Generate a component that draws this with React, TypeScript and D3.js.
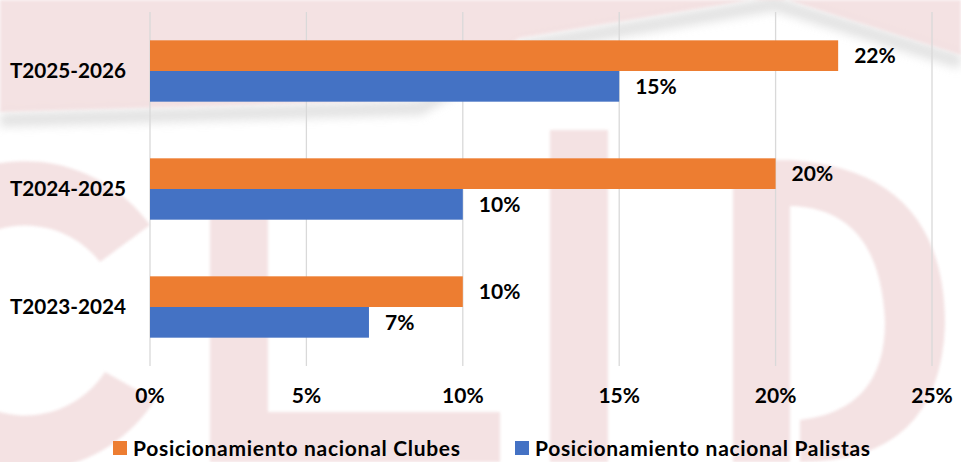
import React from "react";
import { scaleLinear, scaleBand } from "d3";

const categories = ["T2025-2026", "T2024-2025", "T2023-2024"];
const clubes = [22, 20, 10];
const palistas = [15, 10, 7];
const seriesNames = ["Posicionamiento nacional Clubes", "Posicionamiento nacional Palistas"];
const seriesColors = ["#ED7D31", "#4472C4"];
const xTicks = [0, 5, 10, 15, 20, 25];

const width = 961;
const height = 462;
const margin = { top: 12, right: 29, bottom: 96, left: 150 };
const font = "Lato, 'Open Sans', sans-serif";
const pink = "#f3dfe0";

// faint CLTD logo behind the chart
const Watermark = () => (
  <g>
    <defs>
      <filter id="blur" x="-10%" y="-50%" width="120%" height="200%">
        <feGaussianBlur stdDeviation="5" />
      </filter>
      <filter id="soft" x="-5%" y="-5%" width="110%" height="110%">
        <feGaussianBlur stdDeviation="1.5" />
      </filter>
    </defs>
    <path
      d="M0,120 L420,108 L525,46 L775,4 L961,62"
      fill="none"
      stroke="#dcdcdc"
      strokeWidth={14}
      filter="url(#blur)"
      opacity={0.8}
    />
    <g fill={pink} filter="url(#soft)" opacity={0.9}>
      <path d="M0,0 L961,0 L961,55 L775,-4 L520,38 L415,100 L0,112 Z" />
      {/* C */}
      <path d="M150,225 A155,155 0 1,0 155,400 L105,372 A95,95 0 1,1 100,262 Z" />
      {/* L */}
      <rect x={210} y={215} width={58} height={247} />
      <rect x={268} y={412} width={232} height={50} />
      {/* T */}
      <rect x={550} y={130} width={58} height={332} />
      {/* D */}
      <path d="M733,160 L790,160 L790,462 L733,462 Z M790,160 Q945,170 945,325 Q940,462 800,462 L800,420 Q885,410 885,322 Q880,208 790,206 Z" />
    </g>
  </g>
);

export default function App() {
  const innerW = width - margin.left - margin.right;
  const x = scaleLinear().domain([0, 25]).range([margin.left, margin.left + innerW]);
  const y = scaleBand<string>()
    .domain(categories)
    .range([margin.top, height - margin.bottom])
    .paddingInner(0.48)
    .paddingOuter(0.24);
  const inner = scaleBand<string>().domain(seriesNames).range([0, y.bandwidth()]);
  const series = [clubes, palistas];
  const legendX = [113, 515];
  const legendLen = [327, 335];

  return (
    <div style={{ position: "absolute", left: 0, top: 0 }}>
      <svg width={width} height={height} style={{ display: "block", background: "#fff" }}>
        <Watermark />
        {xTicks.map((t) => (
          <line
            key={t}
            x1={x(t)}
            x2={x(t)}
            y1={margin.top}
            y2={height - margin.bottom}
            stroke="#d9d9d9"
            strokeWidth={1.3}
          />
        ))}
        {categories.map((c, i) => (
          <g key={c}>
            {series.map((vals, s) => {
              const by = (y(c) as number) + (inner(seriesNames[s]) as number);
              const bh = inner.bandwidth();
              return (
                <g key={s}>
                  <rect
                    x={x(0)}
                    y={by}
                    width={x(vals[i]) - x(0)}
                    height={bh}
                    fill={seriesColors[s]}
                  />
                  <text
                    x={x(vals[i]) + 16}
                    y={by + bh / 2}
                    dy="0.35em"
                    fontFamily={font}
                    fontWeight="bold"
                    fontSize={21}
                    fill="#000"
                  >
                    {vals[i]}%
                  </text>
                </g>
              );
            })}
            <text
              x={126}
              y={(y(c) as number) + y.bandwidth() / 2}
              dy="0.35em"
              textAnchor="end"
              fontFamily={font}
              fontWeight="bold"
              fontSize={20.7}
              fill="#000"
            >
              {c}
            </text>
          </g>
        ))}
        {xTicks.map((t) => (
          <text
            key={t}
            x={x(t)}
            y={396}
            dy="0.35em"
            textAnchor="middle"
            fontFamily={font}
            fontWeight="bold"
            fontSize={21}
            fill="#000"
          >
            {t}%
          </text>
        ))}
        {seriesNames.map((n, s) => (
          <g key={n}>
            <rect x={legendX[s]} y={441} width={14} height={14} fill={seriesColors[s]} />
            <text
              x={legendX[s] + 20}
              y={449}
              dy="0.35em"
              fontFamily={font}
              fontWeight="bold"
              fontSize={21}
              textLength={legendLen[s]}
              lengthAdjust="spacing"
              fill="#000"
            >
              {n}
            </text>
          </g>
        ))}
      </svg>
    </div>
  );
}
